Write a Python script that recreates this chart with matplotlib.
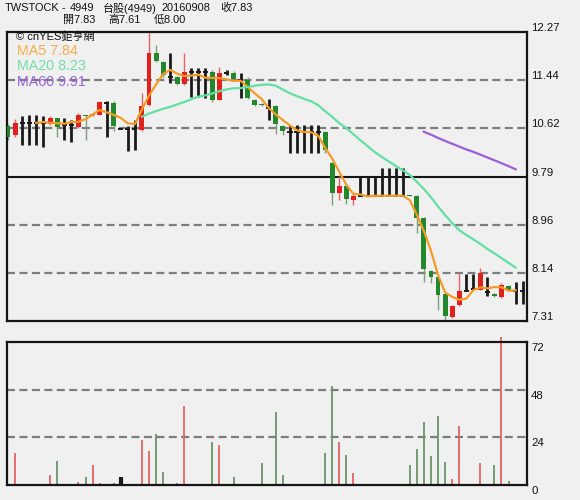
import numpy as np
import pandas as pd
import matplotlib
matplotlib.use("Agg")
import matplotlib.pyplot as plt
from matplotlib import transforms

# Daily OHLC and volume for 4949, oldest first
opens = [10.66, 10.50, 10.71, 10.71, 10.71, 10.71, 10.69, 10.79, 10.67, 10.67,
         10.64, 10.84, 10.84, 10.85, 11.06, 11.06, 10.60, 10.60, 10.60, 10.59,
         11.02, 11.91, 11.76, 11.50, 11.50, 11.37, 11.58, 11.58, 11.58, 11.58,
         11.11, 11.56, 11.56, 11.45, 11.45, 11.11, 11.04, 10.96, 11.00, 10.66,
         10.55, 10.55, 10.55, 10.55, 10.55, 10.55, 10.03, 9.51, 9.63, 9.39,
         9.46, 9.46, 9.46, 9.46, 9.46, 9.46, 9.46, 9.48, 9.46, 9.08,
         8.16, 8.06, 7.77, 7.38, 7.58, 7.82, 7.86, 7.85, 7.80, 7.78,
         7.72, 7.91, 7.83, 7.83]
highs = [10.69, 10.78, 10.82, 10.84, 10.84, 10.82, 10.83, 10.80, 10.79, 10.76,
         10.88, 10.85, 10.88, 11.09, 11.09, 11.08, 10.60, 10.65, 10.76, 11.22,
         12.27, 12.05, 11.78, 11.91, 11.52, 11.91, 11.65, 11.65, 11.65, 11.62,
         11.67, 11.62, 11.60, 11.56, 11.50, 11.12, 11.05, 11.12, 11.01, 10.67,
         10.67, 10.67, 10.67, 10.67, 10.67, 10.57, 10.04, 9.80, 9.64, 9.51,
         9.79, 9.79, 9.79, 9.93, 9.93, 9.93, 9.93, 9.48, 9.47, 9.10,
         8.18, 8.07, 7.78, 7.59, 8.14, 8.11, 8.12, 8.22, 8.07, 7.79,
         7.97, 7.92, 7.98, 8.00]
lows = [10.42, 10.47, 10.33, 10.33, 10.33, 10.30, 10.68, 10.47, 10.42, 10.38,
        10.62, 10.42, 10.83, 10.84, 10.47, 10.57, 10.60, 10.22, 10.25, 10.57,
        11.00, 11.75, 11.50, 11.39, 11.36, 11.36, 11.16, 11.16, 11.13, 11.07,
        11.10, 11.53, 11.46, 11.13, 11.12, 11.00, 11.00, 10.76, 10.52, 10.50,
        10.19, 10.19, 10.19, 10.19, 10.19, 10.19, 9.30, 9.39, 9.32, 9.30,
        9.46, 9.46, 9.46, 9.46, 9.46, 9.46, 9.46, 9.45, 8.82, 7.98,
        7.96, 7.50, 7.31, 7.36, 7.56, 7.82, 7.86, 7.84, 7.74, 7.73,
        7.71, 7.83, 7.60, 7.61]
closes = [10.47, 10.71, 10.71, 10.71, 10.71, 10.71, 10.79, 10.64, 10.67, 10.67,
          10.85, 10.82, 10.86, 11.07, 11.06, 10.65, 10.60, 10.60, 10.60, 11.00,
          11.91, 11.78, 11.54, 11.50, 11.37, 11.58, 11.58, 11.58, 11.58, 11.11,
          11.56, 11.56, 11.47, 11.45, 11.13, 11.02, 11.02, 10.96, 10.69, 10.57,
          10.55, 10.55, 10.55, 10.55, 10.55, 10.25, 9.50, 9.63, 9.40, 9.46,
          9.46, 9.46, 9.46, 9.46, 9.46, 9.46, 9.46, 9.46, 9.08, 8.20,
          8.07, 7.76, 7.40, 7.57, 7.82, 7.82, 7.86, 8.13, 7.80, 7.74,
          7.93, 7.85, 7.83, 7.83]
volumes = [0, 16, 0, 0, 0, 0, 5, 12, 0, 0,
           1.7, 4, 10, 1, 0, 1, 4, 0, 0, 22.6,
           17, 25.7, 6.7, 0, 1, 39.8, 0, 0, 0, 21.8,
           20.1, 0, 4.2, 0, 0.5, 0.5, 10.9, 0, 36.9, 5,
           0, 0, 0, 0, 0, 15.9, 49.8, 21.8, 14.9, 5.9,
           0, 0, 0, 0, 0, 0, 0, 10, 18, 31.9,
           14.8, 34.7, 11.7, 2.9, 29.9, 0, 0, 10.9, 0, 10,
           74.7, 2, 0, 0]

price_ticks = [12.27, 11.44, 10.62, 9.79, 8.96, 8.14, 7.31]
price_dashed = [11.44, 10.62, 8.96, 8.14]
price_solid = [9.79]
volume_ticks = [72, 48, 24, 0]
volume_dashed = [48, 24]

ma_windows = [5, 20, 60]
ma_colors = ["#f59b25", "#62e0a4", "#9a5fd8"]
ma_text_colors = ["#f3ae45", "#74dcab", "#9863d6"]

header_line1 = ["TWSTOCK", "-", "4949", "台股(4949)", "20160908", "收7.83"]
header_line1_x = [5, 62, 70, 103, 161, 220]
header_line2 = ["開7.83", "高7.61", "低8.00"]
header_line2_x = [63, 108, 154]
brand = "© cnYES鉅亨網"

RED, GREEN, BLACK = "#e1211d", "#23882b", "#1a1a1a"
RED_WICK, GREEN_WICK = "#e46464", "#7f9f7f"
RED_VOL, GREEN_VOL = "#e36363", "#6a956a"
BG = "#f0f0f0"
FONT = ["Liberation Sans", "Noto Sans CJK TC", "DejaVu Sans"]
plt.rcParams["font.family"] = FONT

W, H = 580, 500
fig = plt.figure(figsize=(W / 100, H / 100), dpi=100, facecolor=BG)

def frac(x0, y0, x1, y1):
    return [x0 / W, 1 - y1 / H, (x1 - x0) / W, (y1 - y0) / H]

ax = fig.add_axes(frac(7, 32, 527, 321), facecolor=BG)
axv = fig.add_axes(frac(7, 342, 527, 485), facecolor=BG)

o = np.asarray(opens); h = np.asarray(highs); l = np.asarray(lows)
c = np.asarray(closes); v = np.asarray(volumes)
idx = np.arange(len(c))
up, dn, flat = c > o, c < o, c == o

xlim = (-0.14, 73.62)
for a in (ax, axv):
    a.set_xlim(*xlim)
    a.set_xticks([]); a.set_yticks([])
    for s in a.spines.values():
        s.set_linewidth(1.6); s.set_color("#151515")
ax.set_ylim(7.31, 12.27)
axv.set_ylim(0, 72)

dash = (0, (3.6, 2.0))
for y in price_dashed:
    ax.axhline(y, color="#7d7d7d", lw=1.6, ls=dash, zorder=1)
for y in price_solid:
    ax.axhline(y, color="#151515", lw=1.5, zorder=1)
for y in volume_dashed:
    axv.axhline(y, color="#7d7d7d", lw=1.6, ls=dash, zorder=1)

# candlesticks
bw = 0.7
ax.vlines(idx[up], l[up], h[up], color=RED_WICK, lw=1.0, zorder=2)
ax.vlines(idx[dn], l[dn], h[dn], color=GREEN_WICK, lw=1.0, zorder=2)
ax.vlines(idx[flat], l[flat], h[flat], color=BLACK, lw=2.0, zorder=2)
ax.hlines(c[flat], idx[flat] - 0.36, idx[flat] + 0.36, color=BLACK, lw=1.4, zorder=3)
ax.bar(idx[up], np.maximum(c - o, 0.02)[up], bottom=o[up], width=bw,
       color=RED, lw=0, zorder=3)
ax.bar(idx[dn], np.maximum(o - c, 0.02)[dn], bottom=c[dn], width=bw,
       color=GREEN, lw=0, zorder=3)

# moving averages (each point drawn one bar to the left, as the terminal does)
s = pd.Series(c)
legend = []
for n, col in zip(ma_windows, ma_colors):
    ma = s.rolling(n).mean()
    ax.plot(idx[n:] - 1, ma.values[n:], color=col, lw=1.6, zorder=4,
            solid_joinstyle="round")
    legend.append(f"MA{n} {ma.iloc[-1]:.2f}")

# volume bars
has = v > 0
vcol = np.where(up, RED_VOL, np.where(dn, GREEN_VOL, BLACK))
thin = has & ~flat
axv.vlines(idx[thin], 0, v[thin], colors=vcol[thin], lw=1.3, zorder=2, clip_on=False)
fl = has & flat
axv.vlines(idx[fl], 0, v[fl], colors=BLACK, lw=3.0, zorder=2, clip_on=False)

# right-hand scales
tr = transforms.blended_transform_factory(ax.transAxes, ax.transData)
tr_up = transforms.offset_copy(tr, fig=fig, y=4, units="dots")
for t in price_ticks:
    ax.text(1.0077, t, f"{t:.2f}", transform=tr_up, va="center", ha="left",
            fontsize=8.2, color="#111", clip_on=False)
trv = transforms.blended_transform_factory(axv.transAxes, axv.transData)
trv_dn = transforms.offset_copy(trv, fig=fig, y=-6, units="dots")
for t in volume_ticks:
    axv.text(1.0077, t, f"{t}", transform=trv_dn, va="center", ha="left",
             fontsize=8.2, color="#111", clip_on=False)

# header
for xp, t in zip(header_line1_x, header_line1):
    fig.text(xp / W, 1 - 8 / H, t, fontsize=7.9, va="center", ha="left", color="#111")
for xp, t in zip(header_line2_x, header_line2):
    fig.text(xp / W, 1 - 20 / H, t, fontsize=7.9, va="center", ha="left", color="#111")

# legend block inside the price panel
fig.text(16 / W, 1 - 37 / H, brand, fontsize=8.0, va="center", ha="left", color="#111")
for yp, t, col in zip([51, 66, 82], legend, ma_text_colors):
    fig.text(17 / W, 1 - yp / H, t, fontsize=10.3, va="center", ha="left", color=col)

fig.savefig("out.png", dpi=100, facecolor=BG)
